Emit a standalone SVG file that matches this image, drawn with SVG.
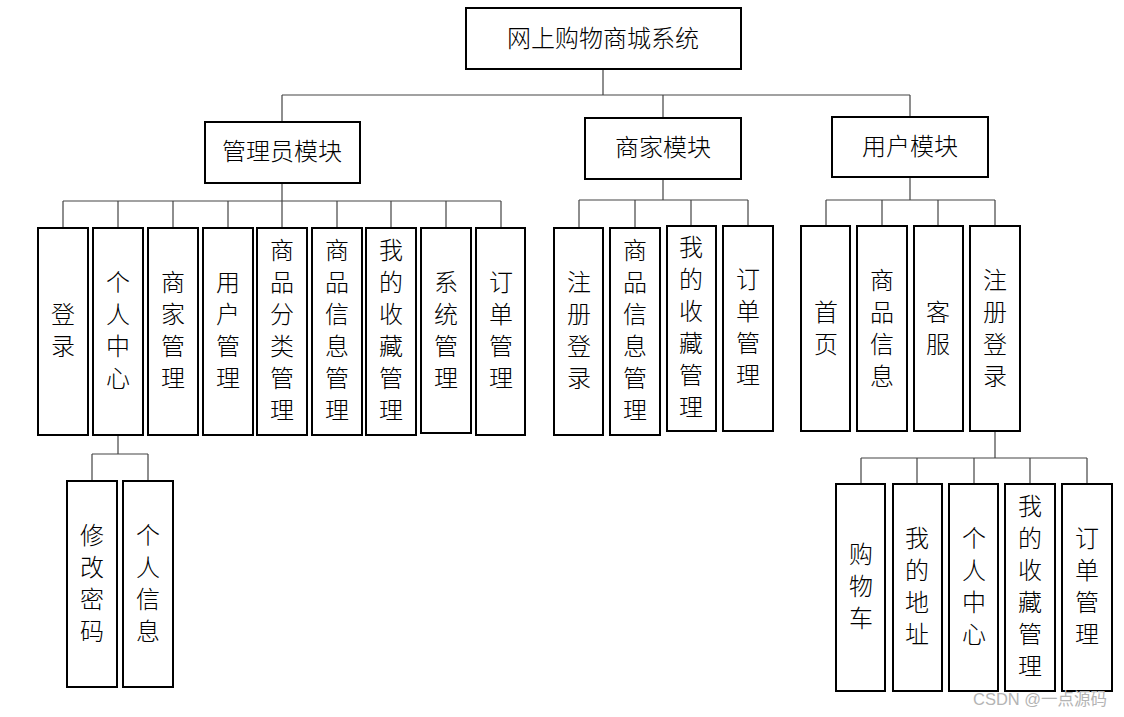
<svg xmlns="http://www.w3.org/2000/svg" width="1124" height="717" viewBox="0 0 1124 717">
<style>
.box{fill:#fff;stroke:#000;stroke-width:2}
.ln{fill:none;stroke:#444;stroke-width:1.2}
.t{font-family:"Noto Sans CJK SC","Liberation Sans",sans-serif;font-size:24px;font-weight:300;fill:#000;text-anchor:middle;dominant-baseline:central}
.wm{font-family:"Liberation Sans","Noto Sans CJK SC",sans-serif;font-size:16.5px;fill:#b4b4b4}
</style>
<rect width="1124" height="717" fill="#fff"/>
<g id="connectors">
<path class="ln" d="M603 69V95M282 95H910M282 95V122M663 95V118M910 95V117"/>
<path class="ln" d="M282 183V201M63 201H501M63 201V228M118 201V228M173 201V228M228 201V228M282 201V228M337 201V228M391 201V228M446 201V228M501 201V228"/>
<path class="ln" d="M663 179V200M579 200H748M579 200V228M635 200V228M691 200V226M748 200V226"/>
<path class="ln" d="M910 177V200M826 200H995M826 200V226M882 200V226M938 200V226M995 200V226"/>
<path class="ln" d="M118 435V454M92 454H148M92 454V481M148 454V481"/>
<path class="ln" d="M995 431V458M861 458H1087M861 458V484M917 458V484M974 458V484M1030 458V484M1087 458V484"/>
</g>
<g id="root"><rect class="box" x="466" y="8" width="275" height="61"/><text class="t" x="603" y="36">网上购物商城系统</text></g>
<g id="admin"><rect class="box" x="205" y="122" width="155" height="61"/><text class="t" x="282" y="149">管理员模块</text></g>
<g id="merchant"><rect class="box" x="585" y="118" width="156" height="61"/><text class="t" x="663" y="145">商家模块</text></g>
<g id="user"><rect class="box" x="832" y="117" width="156" height="60"/><text class="t" x="910" y="144">用户模块</text></g>

<g id="a-login"><rect class="box" x="38" y="228" width="50" height="207"/><text class="t" x="63" y="312"><tspan x="63">登</tspan><tspan x="63" dy="32">录</tspan></text></g>
<g id="a-center"><rect class="box" x="93" y="228" width="50" height="207"/><text class="t" x="118" y="280"><tspan x="118">个</tspan><tspan x="118" dy="32">人</tspan><tspan x="118" dy="32">中</tspan><tspan x="118" dy="32">心</tspan></text></g>
<g id="a-merchant"><rect class="box" x="148" y="228" width="50" height="207"/><text class="t" x="173" y="280"><tspan x="173">商</tspan><tspan x="173" dy="32">家</tspan><tspan x="173" dy="32">管</tspan><tspan x="173" dy="32">理</tspan></text></g>
<g id="a-user"><rect class="box" x="203" y="228" width="50" height="207"/><text class="t" x="228" y="280"><tspan x="228">用</tspan><tspan x="228" dy="32">户</tspan><tspan x="228" dy="32">管</tspan><tspan x="228" dy="32">理</tspan></text></g>
<g id="a-category"><rect class="box" x="257" y="228" width="50" height="207"/><text class="t" x="282" y="248"><tspan x="282">商</tspan><tspan x="282" dy="32">品</tspan><tspan x="282" dy="32">分</tspan><tspan x="282" dy="32">类</tspan><tspan x="282" dy="32">管</tspan><tspan x="282" dy="32">理</tspan></text></g>
<g id="a-goods"><rect class="box" x="312" y="228" width="50" height="207"/><text class="t" x="337" y="248"><tspan x="337">商</tspan><tspan x="337" dy="32">品</tspan><tspan x="337" dy="32">信</tspan><tspan x="337" dy="32">息</tspan><tspan x="337" dy="32">管</tspan><tspan x="337" dy="32">理</tspan></text></g>
<g id="a-fav"><rect class="box" x="366" y="228" width="50" height="207"/><text class="t" x="391" y="248"><tspan x="391">我</tspan><tspan x="391" dy="32">的</tspan><tspan x="391" dy="32">收</tspan><tspan x="391" dy="32">藏</tspan><tspan x="391" dy="32">管</tspan><tspan x="391" dy="32">理</tspan></text></g>
<g id="a-system"><rect class="box" x="421" y="228" width="50" height="205"/><text class="t" x="446" y="280"><tspan x="446">系</tspan><tspan x="446" dy="32">统</tspan><tspan x="446" dy="32">管</tspan><tspan x="446" dy="32">理</tspan></text></g>
<g id="a-order"><rect class="box" x="476" y="228" width="49" height="207"/><text class="t" x="501" y="280"><tspan x="501">订</tspan><tspan x="501" dy="32">单</tspan><tspan x="501" dy="32">管</tspan><tspan x="501" dy="32">理</tspan></text></g>

<g id="a-pwd"><rect class="box" x="67" y="481" width="50" height="206"/><text class="t" x="92" y="533"><tspan x="92">修</tspan><tspan x="92" dy="32">改</tspan><tspan x="92" dy="32">密</tspan><tspan x="92" dy="32">码</tspan></text></g>
<g id="a-info"><rect class="box" x="123" y="481" width="50" height="206"/><text class="t" x="148" y="533"><tspan x="148">个</tspan><tspan x="148" dy="32">人</tspan><tspan x="148" dy="32">信</tspan><tspan x="148" dy="32">息</tspan></text></g>

<g id="m-reg"><rect class="box" x="554" y="228" width="49" height="207"/><text class="t" x="579" y="280"><tspan x="579">注</tspan><tspan x="579" dy="32">册</tspan><tspan x="579" dy="32">登</tspan><tspan x="579" dy="32">录</tspan></text></g>
<g id="m-goods"><rect class="box" x="610" y="228" width="50" height="207"/><text class="t" x="635" y="248"><tspan x="635">商</tspan><tspan x="635" dy="32">品</tspan><tspan x="635" dy="32">信</tspan><tspan x="635" dy="32">息</tspan><tspan x="635" dy="32">管</tspan><tspan x="635" dy="32">理</tspan></text></g>
<g id="m-fav"><rect class="box" x="667" y="226" width="49" height="205"/><text class="t" x="691" y="245"><tspan x="691">我</tspan><tspan x="691" dy="32">的</tspan><tspan x="691" dy="32">收</tspan><tspan x="691" dy="32">藏</tspan><tspan x="691" dy="32">管</tspan><tspan x="691" dy="32">理</tspan></text></g>
<g id="m-order"><rect class="box" x="723" y="226" width="50" height="205"/><text class="t" x="748" y="277"><tspan x="748">订</tspan><tspan x="748" dy="32">单</tspan><tspan x="748" dy="32">管</tspan><tspan x="748" dy="32">理</tspan></text></g>

<g id="u-home"><rect class="box" x="801" y="226" width="49" height="205"/><text class="t" x="826" y="310"><tspan x="826">首</tspan><tspan x="826" dy="32">页</tspan></text></g>
<g id="u-goods"><rect class="box" x="857" y="226" width="50" height="205"/><text class="t" x="882" y="278"><tspan x="882">商</tspan><tspan x="882" dy="32">品</tspan><tspan x="882" dy="32">信</tspan><tspan x="882" dy="32">息</tspan></text></g>
<g id="u-service"><rect class="box" x="914" y="226" width="49" height="205"/><text class="t" x="938" y="310"><tspan x="938">客</tspan><tspan x="938" dy="32">服</tspan></text></g>
<g id="u-reg"><rect class="box" x="970" y="226" width="50" height="205"/><text class="t" x="995" y="278"><tspan x="995">注</tspan><tspan x="995" dy="32">册</tspan><tspan x="995" dy="32">登</tspan><tspan x="995" dy="32">录</tspan></text></g>

<g id="u-cart"><rect class="box" x="836" y="484" width="49" height="207"/><text class="t" x="861" y="552"><tspan x="861">购</tspan><tspan x="861" dy="32">物</tspan><tspan x="861" dy="32">车</tspan></text></g>
<g id="u-addr"><rect class="box" x="893" y="484" width="49" height="207"/><text class="t" x="917" y="536"><tspan x="917">我</tspan><tspan x="917" dy="32">的</tspan><tspan x="917" dy="32">地</tspan><tspan x="917" dy="32">址</tspan></text></g>
<g id="u-center"><rect class="box" x="949" y="484" width="49" height="207"/><text class="t" x="974" y="536"><tspan x="974">个</tspan><tspan x="974" dy="32">人</tspan><tspan x="974" dy="32">中</tspan><tspan x="974" dy="32">心</tspan></text></g>
<g id="u-fav"><rect class="box" x="1005" y="484" width="50" height="207"/><text class="t" x="1030" y="504"><tspan x="1030">我</tspan><tspan x="1030" dy="32">的</tspan><tspan x="1030" dy="32">收</tspan><tspan x="1030" dy="32">藏</tspan><tspan x="1030" dy="32">管</tspan><tspan x="1030" dy="32">理</tspan></text></g>
<g id="u-order"><rect class="box" x="1062" y="484" width="50" height="207"/><text class="t" x="1087" y="536"><tspan x="1087">订</tspan><tspan x="1087" dy="32">单</tspan><tspan x="1087" dy="32">管</tspan><tspan x="1087" dy="32">理</tspan></text></g>

<text class="wm" x="973" y="705">CSDN @一点源码</text>
</svg>
